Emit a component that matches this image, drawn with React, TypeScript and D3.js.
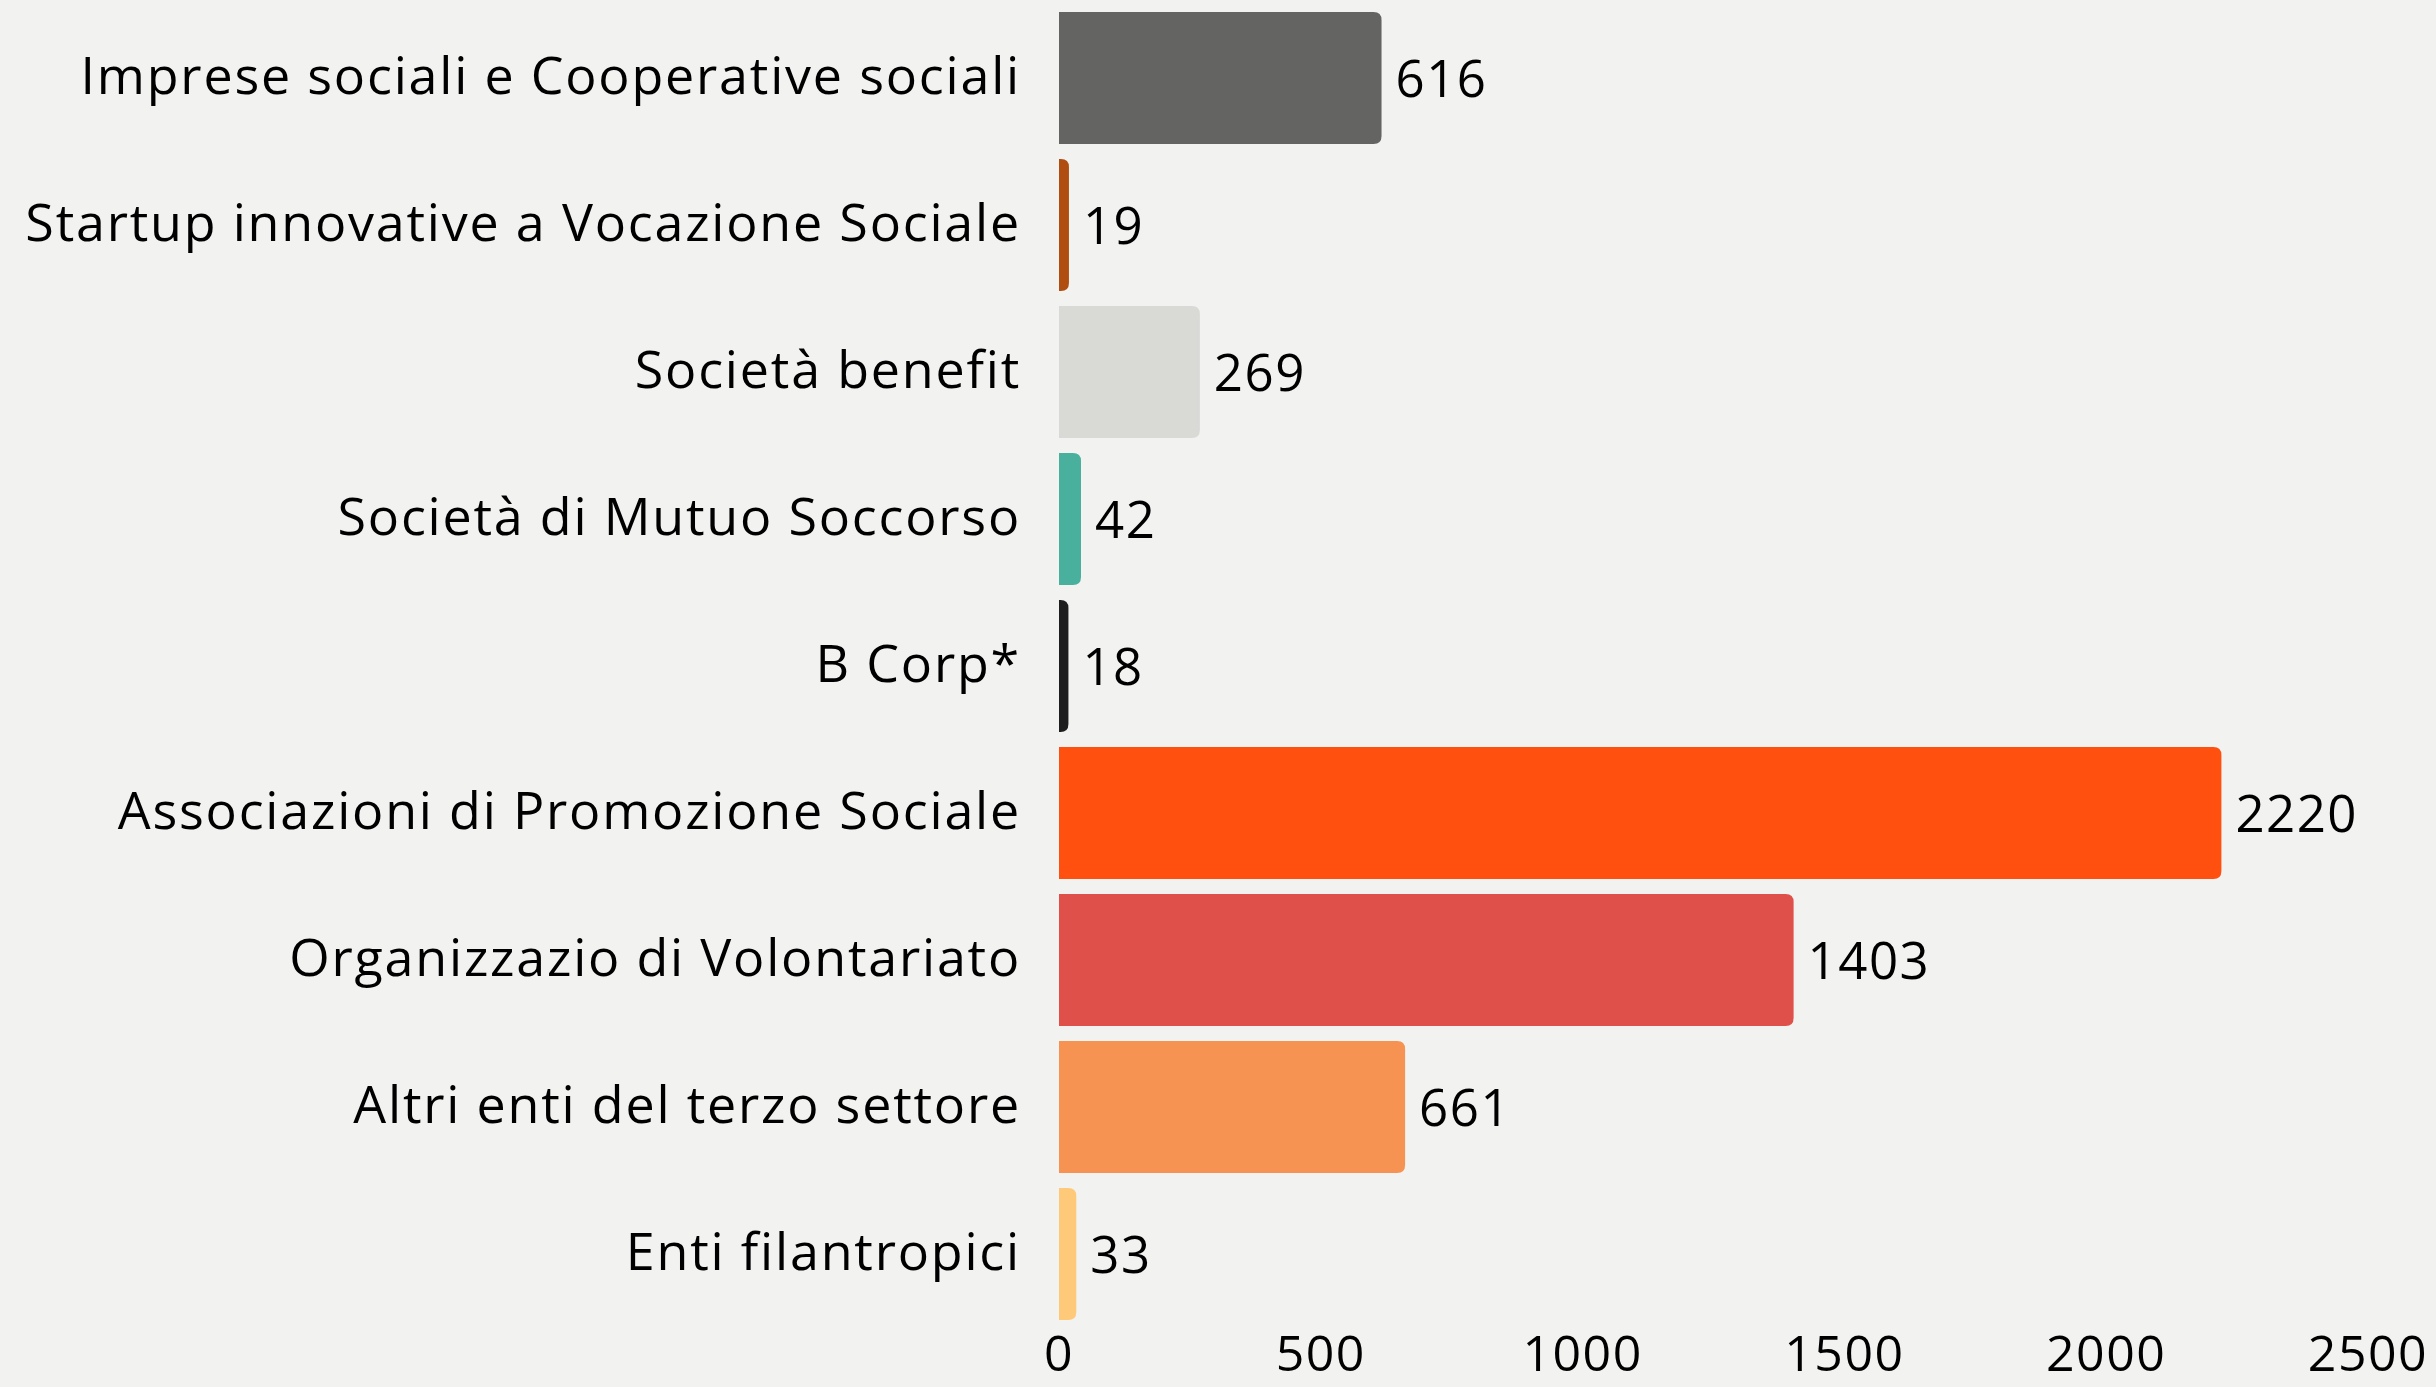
import React, { useEffect, useRef } from 'react';
import * as d3 from 'd3';

const categories = [
  'Imprese sociali e Cooperative sociali',
  'Startup innovative a Vocazione Sociale',
  'Società benefit',
  'Società di Mutuo Soccorso',
  'B Corp*',
  'Associazioni di Promozione Sociale',
  'Organizzazio di Volontariato',
  'Altri enti del terzo settore',
  'Enti filantropici',
];
const values = [616, 19, 269, 42, 18, 2220, 1403, 661, 33];
const colors = ['#646462', '#B04E12', '#D9D9D6', '#48B09C', '#1E1E1E', '#FF5010', '#E0504A', '#F79352', '#FFC97A'];
const xTicks = [0, 500, 1000, 1500, 2000, 2500];

const width = 2436;
const height = 1387;
const FONT = '"Open Sans", Lato, sans-serif';

export default function App() {
  const ref = useRef<SVGSVGElement>(null);

  useEffect(() => {
    document.body.style.margin = '0';
    const svg = d3.select(ref.current);
    svg.selectAll('*').remove();

    const x = d3.scaleLinear().domain([0, 2500]).range([1059, 2368]);
    const y = d3.scaleBand<string>()
      .domain(categories)
      .range([4.5, 1327.5])
      .paddingInner(0.102)
      .paddingOuter(0.051);

    svg.append('rect').attr('width', width).attr('height', height).attr('fill', '#F2F2F0');

    const r = 8;
    // bars, flat on the left, rounded on the right
    svg.selectAll('path.bar')
      .data(values)
      .enter()
      .append('path')
      .attr('class', 'bar')
      .attr('fill', (d, i) => colors[i])
      .attr('d', (d, i) => {
        const x0 = x(0);
        const x1 = x(d);
        const y0 = y(categories[i])!;
        const h = y.bandwidth();
        const rr = Math.min(r, (x1 - x0));
        return `M${x0},${y0}H${x1 - rr}Q${x1},${y0} ${x1},${y0 + rr}V${y0 + h - rr}Q${x1},${y0 + h} ${x1 - rr},${y0 + h}H${x0}Z`;
      });

    // value labels
    svg.selectAll('text.val')
      .data(values)
      .enter()
      .append('text')
      .attr('class', 'val')
      .attr('x', d => x(d) + 14)
      .attr('y', (d, i) => y(categories[i])! + y.bandwidth() / 2 + 19)
      .attr('font-family', FONT)
      .attr('font-size', 51)
      .attr('letter-spacing', 1.5)
      .attr('fill', '#000')
      .text(d => d);

    // category labels
    svg.selectAll('text.cat')
      .data(categories)
      .enter()
      .append('text')
      .attr('class', 'cat')
      .attr('x', 1021)
      .attr('y', d => y(d)! + y.bandwidth() / 2 + 16)
      .attr('text-anchor', 'end')
      .attr('font-family', FONT)
      .attr('font-size', 52)
      .attr('letter-spacing', 1.8)
      .attr('fill', '#000')
      .text(d => d);

    // x axis labels only
    svg.selectAll('text.tick')
      .data(xTicks)
      .enter()
      .append('text')
      .attr('class', 'tick')
      .attr('x', d => x(d))
      .attr('y', 1371)
      .attr('text-anchor', 'middle')
      .attr('font-family', FONT)
      .attr('font-size', 50)
      .attr('letter-spacing', 1.5)
      .attr('fill', '#000')
      .text(d => d);
  }, []);

  return <svg ref={ref} width={width} height={height} style={{ display: 'block' }}></svg>;
}
